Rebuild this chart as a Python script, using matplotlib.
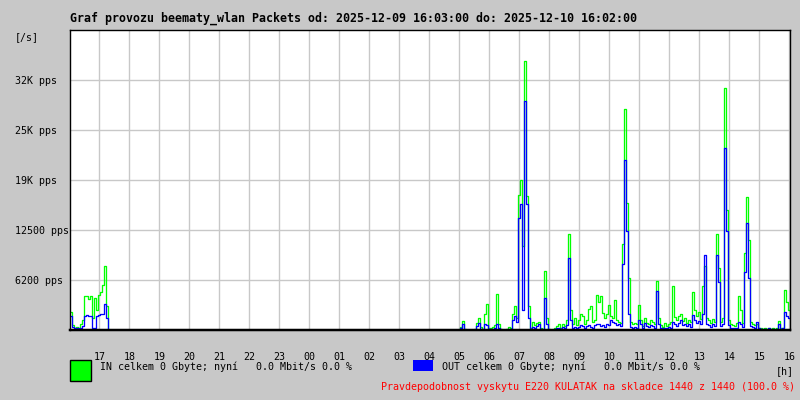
import numpy as np
import matplotlib
matplotlib.use("Agg")
import matplotlib.pyplot as plt
from matplotlib.patches import Rectangle
from matplotlib.transforms import ScaledTranslation

# packets per second, one sample every 4 minutes
# evening block starts 2025-12-09 16:03
evening_start = 16.05
evening_in = [2300, 600, 300, 400, 300, 700, 1250, 4200, 4300, 3900,
              4200, 1500, 4000, 2500, 4400, 4800, 5600, 8000, 3000, 0]
evening_out = [1700, 400, 200, 300, 200, 300, 500, 1800, 1850, 1700,
               1800, 300, 200, 1800, 1900, 2000, 2000, 3300, 1500, 0]

# morning block starts 2025-12-10 04:51
morning_start = 28.85
morning_in = [0, 0, 0, 400, 1100, 100, 0, 0, 0, 0,
              100, 900, 1500, 400, 100, 2000, 3200, 300, 200, 400,
              600, 4500, 800, 100, 0, 0, 100, 400, 200, 2000,
              3000, 1500, 16900, 18800, 10500, 33600, 16700, 3000, 300, 1000,
              600, 900, 1000, 300, 100, 7400, 1500, 100, 0, 0,
              200, 500, 700, 300, 800, 500, 1200, 12000, 2500, 800,
              1500, 600, 1300, 2000, 1800, 700, 1200, 2600, 3000, 1000,
              1200, 4400, 3500, 4200, 2100, 1500, 2000, 3100, 1800, 1500,
              3800, 1200, 1000, 900, 10700, 27600, 15900, 6500, 1000, 800,
              900, 700, 3100, 1200, 500, 1500, 900, 700, 1300, 1000,
              800, 6100, 1500, 600, 400, 900, 500, 700, 1000, 5500,
              1600, 1200, 1800, 2000, 1100, 1500, 900, 1300, 1000, 4800,
              2500, 1800, 2200, 1400, 5500, 8000, 1500, 1200, 900, 1400,
              1000, 12000, 7800, 1000, 1500, 30250, 15000, 1200, 800, 600,
              500, 900, 4250, 2500, 900, 9600, 16600, 11200, 1000, 800,
              600, 700, 300, 200, 100, 200, 100, 300, 100, 200,
              100, 300, 1100, 200, 300, 5000, 3500, 2500]
morning_out = [0, 0, 0, 200, 700, 0, 0, 0, 0, 0,
               0, 500, 900, 100, 0, 800, 600, 100, 100, 100,
               200, 800, 300, 0, 0, 0, 0, 100, 100, 1200,
               1800, 1000, 14000, 15700, 2500, 28600, 15700, 1500, 100, 400,
               300, 500, 800, 100, 0, 4000, 800, 0, 0, 0,
               100, 200, 300, 100, 400, 200, 600, 9000, 1200, 300,
               400, 200, 400, 600, 500, 300, 500, 600, 400, 300,
               600, 800, 700, 500, 600, 400, 800, 600, 1300, 1000,
               900, 600, 700, 500, 8200, 21300, 12400, 2000, 400, 300,
               400, 300, 1200, 700, 300, 900, 500, 400, 600, 500,
               300, 4900, 700, 300, 200, 300, 200, 400, 300, 1000,
               700, 500, 900, 1200, 600, 800, 500, 700, 400, 1900,
               1300, 900, 1100, 700, 2000, 9400, 800, 600, 400, 800,
               500, 9400, 6000, 500, 700, 22750, 12400, 600, 300, 200,
               200, 300, 1000, 700, 400, 7300, 13400, 6500, 500, 400,
               300, 1000, 200, 100, 100, 100, 0, 200, 0, 100,
               0, 100, 700, 100, 200, 2200, 1800, 1500]

hours = list(range(17, 41))
hour_labels = ["%02d" % (h % 24) for h in hours]
y_ticks = [6250, 12500, 18750, 25000, 31250]
y_labels = ["6200 pps", "12500 pps", "19K pps", "25K pps", "32K pps"]

step = 4 / 60
t_even = evening_start + step * np.arange(len(evening_in))
t_morn = morning_start + step * np.arange(len(morning_in))

bg = "#c8c8c8"
mono = "DejaVu Sans Mono"
px = 0.72  # one pixel in points at dpi 100

fig = plt.figure(figsize=(8, 4), dpi=100, facecolor=bg)
ax = fig.add_axes([70 / 800, 70 / 400, 720 / 800, 300 / 400])
ax.set_facecolor("white")

ax.set_xlim(16.0167, 40.0167)
ax.set_ylim(0, 37500)

ax.set_xticks(hours)
ax.set_xticklabels(hour_labels, fontfamily=mono, fontsize=7.2)
ax.set_yticks(y_ticks)
ax.set_yticklabels(y_labels, fontfamily=mono, fontsize=7.2)
# nudge y labels down a couple of pixels
shift = ScaledTranslation(0, -2.5 / 100, fig.dpi_scale_trans)
for lab in ax.get_yticklabels():
    lab.set_horizontalalignment("left")
    lab.set_transform(lab.get_transform() + shift)
ax.tick_params(axis="x", length=0, pad=15.5)
ax.tick_params(axis="y", length=0, pad=39.6)
ax.grid(True, color="#c8c8c8", linewidth=px * 1.4)
ax.set_axisbelow(True)

for sp in ax.spines.values():
    sp.set_color("black")
    sp.set_linewidth(px * 1.4)
ax.spines["bottom"].set_linewidth(px * 2.5)

for t, vin, vout in [(t_even, evening_in, evening_out), (t_morn, morning_in, morning_out)]:
    ax.plot(t, vin, color="#00ff00", linewidth=px * 1.3, drawstyle="steps-mid")
    ax.plot(t, vout, color="#0000ff", linewidth=px * 1.3, drawstyle="steps-mid")

fig.text(70 / 800, 1 - 18 / 400,
         "Graf provozu beematy_wlan Packets od: 2025-12-09 16:03:00 do: 2025-12-10 16:02:00",
         fontfamily=mono, fontsize=8.4, fontweight="bold", va="center", ha="left")
fig.text(15 / 800, 1 - 37 / 400, "[/s]", fontfamily=mono, fontsize=7.2, va="center")
fig.text(776 / 800, 1 - 371 / 400, "[h]", fontfamily=mono, fontsize=7.2, va="center")

fig.patches.append(Rectangle((70 / 800, 19 / 400), 21 / 800, 21 / 400,
                             transform=fig.transFigure, facecolor="#00ff00",
                             edgecolor="black", linewidth=px * 1.4))
fig.patches.append(Rectangle((413 / 800, 29 / 400), 20 / 800, 11 / 400,
                             transform=fig.transFigure, facecolor="#0000ff",
                             edgecolor="none"))
fig.text(100 / 800, 1 - 367 / 400, "IN celkem 0 Gbyte; nyní   0.0 Mbit/s 0.0 %",
         fontfamily=mono, fontsize=7.2, va="center")
fig.text(442 / 800, 1 - 367 / 400, "OUT celkem 0 Gbyte; nyní   0.0 Mbit/s 0.0 %",
         fontfamily=mono, fontsize=7.2, va="center")
fig.text(795 / 800, 1 - 387 / 400,
         "Pravdepodobnost vyskytu E220 KULATAK na skladce 1440 z 1440 (100.0 %)",
         fontfamily=mono, fontsize=7.2, va="center", ha="right", color="#ff0000")

fig.savefig("out.png", dpi=100, facecolor=bg)
